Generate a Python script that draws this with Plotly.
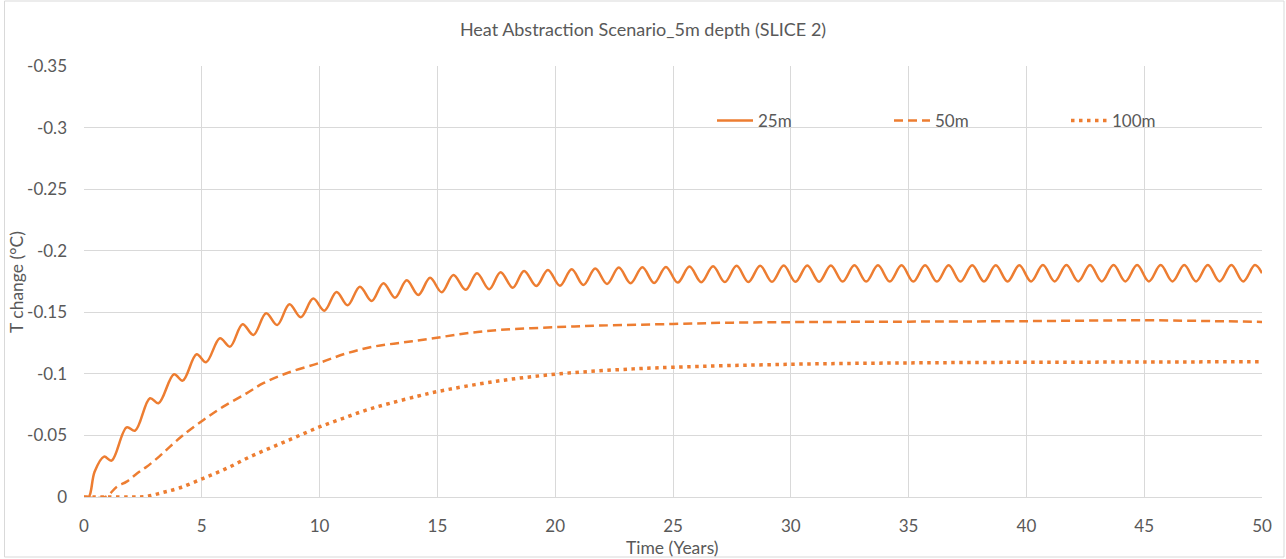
import plotly.graph_objects as go

# ---------------- data ----------------
t_25m = [0, 0.2, 0.45, 0.85, 1.17, 1.81, 2.17, 2.8, 3.16, 3.82, 4.19, 4.78, 5.18, 5.77,
         6.2, 6.73, 7.19, 7.73, 8.2, 8.72, 9.2, 9.73, 10.2, 10.72, 11.19, 11.71, 12.21,
         12.71, 13.2, 13.7, 14.19, 14.69, 15.18, 15.68, 16.2, 16.68, 17.2, 17.68, 18.2,
         18.68, 19.2, 19.69, 20.2, 20.7, 21.2, 21.7, 22.2, 22.7, 23.2, 23.7, 24.2, 24.7,
         25.2, 25.7, 26.2, 26.7, 27.2, 27.7, 28.2, 28.7, 29.2, 29.7, 30.2, 30.7, 31.2,
         31.7, 32.2, 32.7, 33.2, 33.7, 34.2, 34.7, 35.2, 35.7, 36.2, 36.7, 37.2, 37.7,
         38.2, 38.7, 39.2, 39.7, 40.2, 40.7, 41.2, 41.7, 42.2, 42.7, 43.2, 43.7, 44.2,
         44.7, 45.2, 45.7, 46.2, 46.7, 47.2, 47.7, 48.2, 48.7, 49.2, 49.7, 50]
v_25m = [0, 0, -0.0205, -0.0328, -0.0295, -0.0566, -0.0539, -0.0802, -0.0761, -0.0997,
         -0.0945, -0.1159, -0.1094, -0.1289, -0.1221, -0.1403, -0.1316, -0.1492, -0.1397,
         -0.1565, -0.146, -0.1611, -0.1513, -0.1665, -0.1557, -0.1708, -0.1592, -0.1736,
         -0.1619, -0.176, -0.1641, -0.178, -0.1663, -0.1803, -0.1682, -0.1817, -0.1687,
         -0.1825, -0.170, -0.1836, -0.1714, -0.1844, -0.1716, -0.185, -0.1722, -0.1855,
         -0.173, -0.1863, -0.1736, -0.1866, -0.1738, -0.1868, -0.1741, -0.1871, -0.1744,
         -0.1874, -0.1745, -0.1877, -0.1746, -0.1878, -0.1747, -0.1879, -0.1748, -0.188,
         -0.1748, -0.188, -0.1749, -0.1881, -0.1749, -0.1881, -0.1749, -0.1881, -0.1749,
         -0.1882, -0.1749, -0.1882, -0.1749, -0.1882, -0.175, -0.1882, -0.175, -0.1882,
         -0.175, -0.1883, -0.175, -0.1883, -0.175, -0.1883, -0.175, -0.1883, -0.175,
         -0.1883, -0.175, -0.1883, -0.175, -0.1883, -0.175, -0.1883, -0.175, -0.1883,
         -0.175, -0.1883, -0.1817]

t_50m = [0, 0.9, 1.4, 1.81, 2.26, 2.66, 3.2, 3.65, 4.22, 5.07, 5.91, 6.9, 7.61, 8.6,
         10.02, 11.15, 12.28, 13.55, 14.83, 16.24, 17.66, 20, 21.9, 25, 27.56, 30,
         32.23, 35, 40, 45, 48, 50]
v_50m = [0, 0, -0.0084, -0.0125, -0.0193, -0.0246, -0.033, -0.0409, -0.0504, -0.0626,
         -0.0734, -0.0842, -0.0924, -0.1005, -0.1091, -0.1167, -0.1221, -0.1255, -0.1289,
         -0.133, -0.1357, -0.1379, -0.1392, -0.1405, -0.1416, -0.142, -0.1422, -0.1424,
         -0.1428, -0.1435, -0.1428, -0.1422]

t_100m = [0, 1, 2.0, 2.66, 3.37, 4.07, 5.07, 6.06, 7.05, 8.04, 9.03, 10.02, 11.0, 12.0,
          12.99, 14.19, 15, 17.5, 20, 22.5, 25, 30, 35, 40, 45, 50]
v_100m = [0, 0, 0, -0.0005, -0.0038, -0.0075, -0.0152, -0.0233, -0.0327, -0.0409, -0.049,
          -0.0571, -0.0639, -0.0707, -0.0761, -0.082, -0.0856, -0.094, -0.0997, -0.1032,
          -0.1054, -0.1078, -0.1089, -0.1094, -0.1096, -0.1099]

series_names = ["25m", "50m", "100m"]
x_ticks = [0, 5, 10, 15, 20, 25, 30, 35, 40, 45, 50]
x_ticktext = ["0", "5", "10", "15", "20", "25", "30", "35", "40", "45", "50"]
y_ticks = [0, -0.05, -0.1, -0.15, -0.2, -0.25, -0.3, -0.35]
y_ticktext = ["0", "-0.05", "-0.1", "-0.15", "-0.2", "-0.25", "-0.3", "-0.35"]

# ---------------- styling ----------------
ORANGE = "#ED7D31"
GRID = "#D9D9D9"
TXT = "#595959"
FONT = "Lato"

W, H = 1286, 559
L, R, T, B = 84, 24, 66, 62
PW, PH = W - L - R, H - T - B


def px_x(p):
    return (p - L) / PW


def px_y(p):
    return (H - B - p) / PH


fig = go.Figure()
fig.add_trace(go.Scatter(x=t_25m, y=v_25m, mode="lines", name=series_names[0],
                         line=dict(color=ORANGE, width=2.5, shape="spline", smoothing=1.0)))
fig.add_trace(go.Scatter(x=t_50m, y=v_50m, mode="lines", name=series_names[1],
                         line=dict(color=ORANGE, width=2.5, dash="9px,5px", shape="spline",
                                   smoothing=1.0)))
fig.add_trace(go.Scatter(x=t_100m, y=v_100m, mode="lines", name=series_names[2],
                         line=dict(color=ORANGE, width=3.5, dash="3.5px,4.5px", shape="spline",
                                   smoothing=1.0)))

fig.update_layout(
    width=W, height=H,
    margin=dict(l=L, r=R, t=T, b=B, pad=0),
    paper_bgcolor="white", plot_bgcolor="white",
    font=dict(family=FONT, color=TXT, size=17),
    title=dict(text="Heat Abstraction Scenario_5m depth (SLICE 2)",
               font=dict(family=FONT, size=18, color=TXT),
               x=0.5, xref="container", xanchor="center",
               y=1 - 30 / H, yref="container", yanchor="middle"),
    showlegend=True,
    legend=dict(orientation="h", x=px_x(712), y=px_y(121), xanchor="left", yanchor="middle",
                bgcolor="rgba(0,0,0,0)", font=dict(family=FONT, size=17, color=TXT),
                entrywidth=126, itemwidth=36),
    xaxis=dict(range=[0, 50], tickvals=x_ticks, ticktext=x_ticktext, showgrid=True,
               gridcolor=GRID, gridwidth=1, zeroline=False, showline=True, linecolor=GRID,
               linewidth=1, ticks="", ticklabelstandoff=14, tickfont=dict(size=17, color=TXT)),
    yaxis=dict(range=[0, -0.35], tickvals=y_ticks, ticktext=y_ticktext, showgrid=True,
               gridcolor=GRID, gridwidth=1, zeroline=False, showline=False, ticks="",
               ticklabelstandoff=16, tickfont=dict(size=17, color=TXT)),
    annotations=[
        dict(text="Time (Years)", xref="paper", yref="paper", x=px_x(672), y=px_y(547),
             xanchor="center", yanchor="middle", showarrow=False,
             font=dict(family=FONT, size=17.5, color=TXT)),
        dict(text="T change (°C)", xref="paper", yref="paper", x=px_x(16), y=px_y(282),
             xanchor="center", yanchor="middle", showarrow=False, textangle=-90,
             font=dict(family=FONT, size=17.5, color=TXT)),
    ],
    shapes=[
        dict(type="rect", xref="paper", yref="paper", x0=px_x(4.5), x1=px_x(1284),
             y0=px_y(557), y1=px_y(1), line=dict(color=GRID, width=1), layer="below"),
    ],
)

fig.write_html("out.html")
